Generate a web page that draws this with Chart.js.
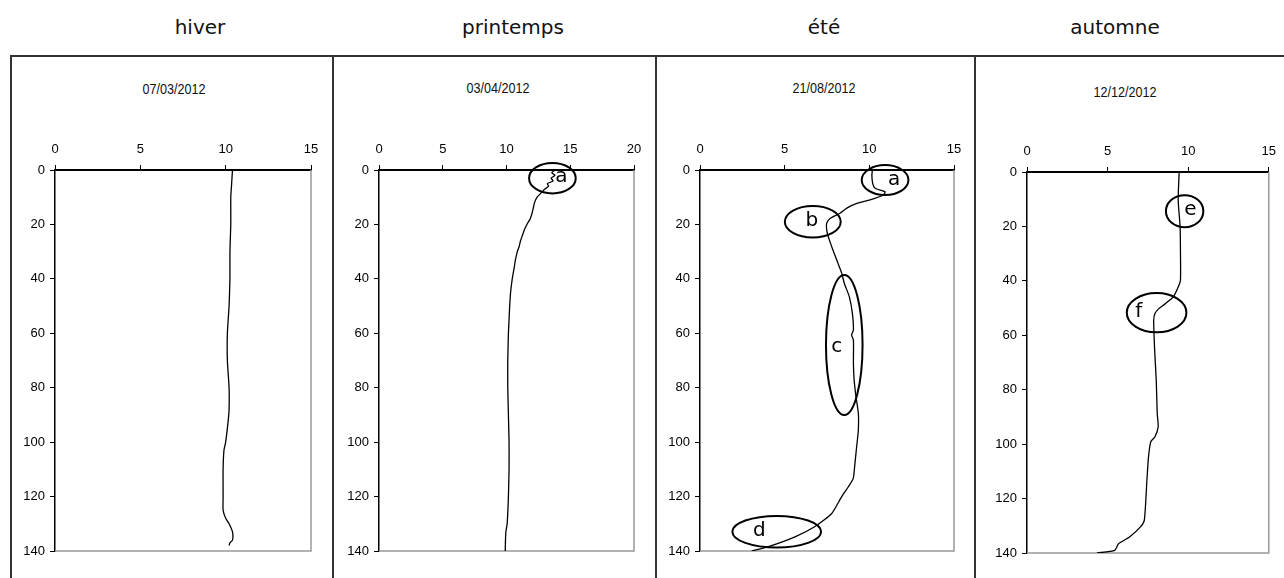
<!DOCTYPE html>
<html>
<head>
<meta charset="utf-8">
<script src="https://cdn.jsdelivr.net/npm/chart.js@4"></script>
<style>
  body { margin: 0; background: #fff; width: 1284px; height: 578px; overflow: hidden; position: relative; }
  .line { position: absolute; background: #333; }
  .season { position: absolute; transform: translate(-50%, -50%); font: 20px "DejaVu Sans", sans-serif; color: #111; white-space: nowrap; }
  .date { position: absolute; transform: translate(-50%, -50%) scaleX(0.84); font: 15px "Liberation Sans", sans-serif; color: #111; white-space: nowrap; }
  canvas { position: absolute; }
</style>
</head>
<body>
<div class="line" style="left:10px;top:55px;width:1274px;height:2px"></div>
<div class="line" style="left:10px;top:55px;width:2px;height:523px"></div>
<div class="line" style="left:332px;top:55px;width:2px;height:523px"></div>
<div class="line" style="left:655px;top:55px;width:2px;height:523px"></div>
<div class="line" style="left:974px;top:55px;width:2px;height:523px"></div>

<div class="season" style="left:200px;top:27px">hiver</div>
<div class="season" style="left:513px;top:27px">printemps</div>
<div class="season" style="left:824px;top:27px">été</div>
<div class="season" style="left:1115px;top:27px">automne</div>

<div class="date" style="left:174px;top:88px">07/03/2012</div>
<div class="date" style="left:498px;top:87px">03/04/2012</div>
<div class="date" style="left:824px;top:87px">21/08/2012</div>
<div class="date" style="left:1125px;top:91px">12/12/2012</div>

<canvas id="hiver" width="319" height="521" style="left:13px;top:57px"></canvas>
<canvas id="printemps" width="320" height="521" style="left:335px;top:57px"></canvas>
<canvas id="ete" width="316" height="521" style="left:658px;top:57px"></canvas>
<canvas id="automne" width="307" height="521" style="left:977px;top:57px"></canvas>

<script>
// profondeur (axe vertical) et temperature (axe horizontal) par saison
const hiverDepth = [0, 5, 10, 20, 30, 40, 50, 60, 70, 80, 88, 92, 100, 103, 110, 120, 125, 128, 130, 133, 136, 137, 138];
const hiverTemp  = [10.4, 10.35, 10.3, 10.3, 10.25, 10.25, 10.2, 10.1, 10.1, 10.2, 10.2, 10.15, 10.0, 9.9, 9.85, 9.85, 9.85, 10.0, 10.2, 10.4, 10.4, 10.25, 10.2];

const printempsDepth = [0, 1, 2, 3, 4, 5, 6, 7, 8, 10, 12, 14, 16, 18, 20, 22, 24, 26, 28, 30, 33, 36, 40, 45, 50, 55, 60, 70, 80, 90, 100, 110, 120, 126, 130, 133, 136, 140];
const printempsTemp  = [13.8, 13.55, 13.8, 13.5, 13.65, 13.2, 13.3, 13.0, 12.8, 12.4, 12.2, 12.1, 12.0, 11.85, 11.6, 11.4, 11.25, 11.1, 11.0, 10.85, 10.7, 10.6, 10.45, 10.32, 10.25, 10.2, 10.15, 10.1, 10.1, 10.15, 10.2, 10.2, 10.15, 10.1, 10.05, 9.95, 9.92, 9.9];

const eteDepth = [0, 2, 5, 6.7, 8, 9.2, 11, 12.3, 14, 15.9, 17.8, 19.6, 23.3, 28.2, 33, 37.9, 41.6, 46.6, 52.7, 58.8, 60.6, 62.5, 71, 77, 82.7, 89.4, 95.6, 101.7, 107.8, 113.3, 116.4, 120, 126.2, 131, 134.8, 138.4, 140];
const eteTemp  = [10.18, 10.15, 10.2, 10.34, 10.93, 10.83, 10.04, 9.26, 8.67, 8.27, 7.68, 7.48, 7.52, 7.78, 8.07, 8.37, 8.52, 8.82, 9.0, 9.06, 8.95, 9.06, 9.06, 9.1, 9.2, 9.35, 9.35, 9.25, 9.15, 9.05, 8.76, 8.37, 7.78, 6.79, 5.61, 4.04, 3.05];

const automneDepth = [0, 10.4, 20.2, 28.8, 39.8, 42.3, 45.9, 48.4, 50.2, 52, 54.5, 65.5, 76.6, 88.8, 93.6, 97.3, 99.1, 104.6, 113.2, 127.9, 130.4, 134, 136.6, 139, 140];
const automneTemp  = [9.44, 9.38, 9.5, 9.52, 9.52, 9.38, 9.08, 8.58, 8.18, 7.94, 7.86, 7.92, 8.02, 8.08, 8.14, 7.94, 7.68, 7.54, 7.44, 7.28, 7.04, 6.38, 5.68, 5.44, 4.34];

// ellipses de commentaire (centre, demi-axes et lettre en unites des axes)
const notesPrintemps = [{ x: 13.6, y: 3, rx: 1.83, ry: 5.6, label: 'a', lx: 14.3, ly: 2.5 }];
const notesEte = [
  { x: 10.93, y: 3.7, rx: 1.38, ry: 5.5, label: 'a', lx: 11.46, ly: 3.5 },
  { x: 6.66, y: 19, rx: 1.65, ry: 5.8, label: 'b', lx: 6.6, ly: 18.5 },
  { x: 8.52, y: 64.3, rx: 1.08, ry: 25.7, label: 'c', lx: 8.07, ly: 65 },
  { x: 4.53, y: 132.9, rx: 2.62, ry: 5.8, label: 'd', lx: 3.5, ly: 132.5 }
];
const notesAutomne = [
  { x: 9.78, y: 14.4, rx: 1.16, ry: 5.9, label: 'e', lx: 10.14, ly: 14 },
  { x: 8.04, y: 51.7, rx: 1.85, ry: 7.2, label: 'f', lx: 6.94, ly: 51.5 }
];

const tickFont = { family: "'Liberation Sans', sans-serif", size: 13 };

// cadre gris a droite et en bas de la zone de trace
const framePlugin = {
  id: 'frame',
  beforeDatasetsDraw(chart) {
    const { ctx, chartArea: a } = chart;
    ctx.save();
    ctx.strokeStyle = '#999';
    ctx.lineWidth = 1.5;
    ctx.beginPath();
    ctx.moveTo(a.right, a.top);
    ctx.lineTo(a.right, a.bottom);
    ctx.lineTo(a.left, a.bottom);
    ctx.stroke();
    ctx.restore();
  }
};

const notesPlugin = {
  id: 'notes',
  afterDatasetsDraw(chart, args, opts) {
    const items = opts.items || [];
    const { ctx } = chart;
    const sx = chart.scales.x, sy = chart.scales.y;
    ctx.save();
    items.forEach(n => {
      const cx = sx.getPixelForValue(n.x), cy = sy.getPixelForValue(n.y);
      const rx = Math.abs(sx.getPixelForValue(n.x + n.rx) - cx);
      const ry = Math.abs(sy.getPixelForValue(n.y + n.ry) - cy);
      ctx.beginPath();
      ctx.ellipse(cx, cy, rx, ry, 0, 0, Math.PI * 2);
      ctx.lineWidth = 2;
      ctx.strokeStyle = '#000';
      ctx.stroke();
      ctx.fillStyle = '#000';
      ctx.font = '20px "DejaVu Sans", sans-serif';
      ctx.textAlign = 'center';
      ctx.textBaseline = 'middle';
      ctx.fillText(n.label, sx.getPixelForValue(n.lx), sy.getPixelForValue(n.ly));
    });
    ctx.restore();
  }
};

const makeProfile = (id, depth, temp, xMax, notes, pad) => {
  const points = depth.map((d, i) => ({ x: temp[i], y: d }));
  return new Chart(document.getElementById(id), {
    type: 'scatter',
    data: {
      datasets: [{
        data: points,
        showLine: true,
        borderColor: '#000',
        borderWidth: 1.3,
        pointRadius: 0,
        tension: 0.2
      }]
    },
    options: {
      responsive: false,
      animation: false,
      devicePixelRatio: 1,
      layout: { padding: pad },
      plugins: {
        legend: { display: false },
        tooltip: { enabled: false },
        notes: { items: notes }
      },
      scales: {
        x: {
          type: 'linear',
          position: 'top',
          min: 0,
          max: xMax,
          afterFit: s => { s.height = 40; },
          ticks: { stepSize: 5, color: '#000', font: tickFont, padding: 8 },
          grid: { drawOnChartArea: false, drawTicks: true, tickLength: 5, color: '#000' },
          border: { color: '#000', width: 2 }
        },
        y: {
          type: 'linear',
          reverse: true,
          min: 0,
          max: 140,
          afterFit: s => { s.width = 40; },
          ticks: { stepSize: 20, color: '#000', font: tickFont, padding: 5 },
          grid: { drawOnChartArea: false, drawTicks: true, tickLength: 5, color: '#000' },
          border: { color: '#000', width: 1.5 }
        }
      }
    },
    plugins: [framePlugin, notesPlugin]
  });
};

makeProfile('hiver', hiverDepth, hiverTemp, 15, [], { left: 2, right: 21, top: 73, bottom: 27 });
makeProfile('printemps', printempsDepth, printempsTemp, 20, notesPrintemps, { left: 4, right: 21, top: 73, bottom: 27 });
makeProfile('ete', eteDepth, eteTemp, 15, notesEte, { left: 2, right: 20, top: 73, bottom: 27 });
makeProfile('automne', automneDepth, automneTemp, 15, notesAutomne, { left: 10, right: 7, top: 75, bottom: 25 });
</script>
</body>
</html>
